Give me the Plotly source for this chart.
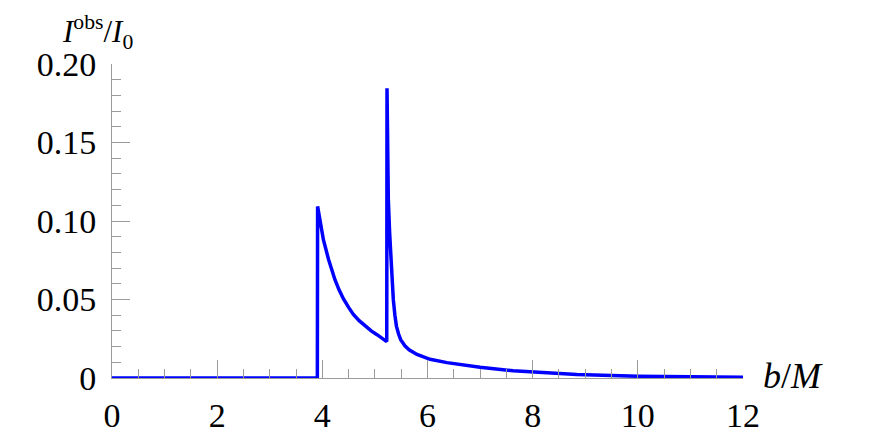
import plotly.graph_objects as go

# impact parameter b/M
b_vals = [0.0, 3.905, 3.91, 3.96, 4.02, 4.12, 4.24, 4.32, 4.40, 4.50, 4.59, 4.70, 4.82, 4.93,
          5.04, 5.13, 5.225,
          5.23, 5.24, 5.255, 5.28, 5.31, 5.35, 5.38, 5.41, 5.45, 5.49, 5.57, 5.65, 5.80, 6.05, 6.37,
          7.00, 7.63, 8.27, 8.84, 10.0, 11.0, 12.0]
# observed intensity I_obs / I_0
intensity = [0.0, 0.0, 0.1093, 0.0987, 0.0881, 0.0753, 0.0626, 0.0560, 0.0505, 0.0450, 0.0405,
             0.0365, 0.0329, 0.0300, 0.0276, 0.0255, 0.0232,
             0.1845, 0.13, 0.1135, 0.0924, 0.0711, 0.0499, 0.0400, 0.0329, 0.0280, 0.0244,
             0.0205, 0.0180, 0.0150, 0.0119, 0.0098, 0.0068, 0.0046, 0.0032, 0.0023, 0.0011,
             0.0007, 0.0004]

x_ticks = [0, 2, 4, 6, 8, 10, 12]
x_tick_text = ["0", "2", "4", "6", "8", "10", "12"]
y_ticks = [0, 0.05, 0.10, 0.15, 0.20]
y_tick_text = ["0", "0.05", "0.10", "0.15", "0.20"]

FONT = "Liberation Serif"
AX = "#9a9a9a"

fig = go.Figure()
fig.add_trace(go.Scatter(x=b_vals, y=intensity, mode="lines",
                         line=dict(color="#0000ff", width=3.5),
                         cliponaxis=False, showlegend=False))

fig.update_layout(
    width=864, height=428,
    margin=dict(l=104, r=129, t=56, b=58, autoexpand=False),
    paper_bgcolor="white", plot_bgcolor="white",
    font=dict(family=FONT, size=34, color="black"),
    xaxis=dict(range=[0, 12], showgrid=False, zeroline=False, automargin=False,
               showline=True, linecolor=AX, linewidth=1,
               tickmode="array", tickvals=x_ticks, ticktext=x_tick_text,
               ticks="inside", ticklen=18, tickcolor=AX, tickwidth=1,
               ticklabelstandoff=7,
               minor=dict(dtick=0.5, ticks="inside", ticklen=9, tickcolor=AX, tickwidth=1),
               tickfont=dict(family=FONT, size=34)),
    yaxis=dict(range=[0, 0.2], showgrid=False, zeroline=False, automargin=False,
               showline=True, linecolor=AX, linewidth=1,
               tickmode="array", tickvals=y_ticks, ticktext=y_tick_text,
               ticks="inside", ticklen=18, tickcolor=AX, tickwidth=1,
               ticklabelstandoff=8,
               minor=dict(dtick=0.01, ticks="inside", ticklen=9, tickcolor=AX, tickwidth=1),
               tickfont=dict(family=FONT, size=34)),
    annotations=[
        dict(text="<i>I</i><sup>obs</sup>/<i>I</i><sub>0</sub>", xref="paper", yref="paper",
             x=0, y=1, xshift=-51, yshift=9, xanchor="left", yanchor="bottom",
             borderpad=0, showarrow=False, font=dict(family=FONT, size=31)),
        dict(text="<i>b</i>/<i>M</i>", xref="paper", yref="paper",
             x=1, y=0, xshift=18, yshift=2, xanchor="left", yanchor="middle",
             showarrow=False, font=dict(family=FONT, size=36)),
    ],
)

fig.write_html("out.html")
